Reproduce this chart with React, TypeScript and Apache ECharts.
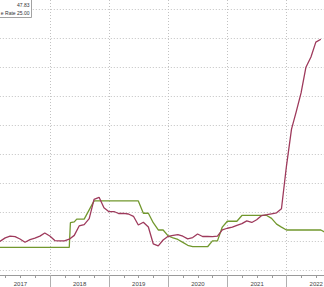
import React, { useEffect, useRef } from "react";
import * as echarts from "echarts";

// Inflation (red) – month-end values
const cpiDates = [
  "2017-01-31","2017-02-28","2017-03-31","2017-04-30","2017-05-31","2017-06-30","2017-07-31","2017-08-31","2017-09-30","2017-10-31","2017-11-30","2017-12-31",
  "2018-01-31","2018-02-28","2018-03-31","2018-04-30","2018-05-31","2018-06-30","2018-07-31","2018-08-31","2018-09-30","2018-10-31","2018-11-30","2018-12-31",
  "2019-01-31","2019-02-28","2019-03-31","2019-04-30","2019-05-31","2019-06-30","2019-07-31","2019-08-31","2019-09-30","2019-10-31","2019-11-30","2019-12-31",
  "2020-01-31","2020-02-29","2020-03-31","2020-04-30","2020-05-31","2020-06-30","2020-07-31","2020-08-31","2020-09-30","2020-10-31","2020-11-30","2020-12-31",
  "2021-01-31","2021-02-28","2021-03-31","2021-04-30","2021-05-31","2021-06-30","2021-07-31","2021-08-31","2021-09-30","2021-10-31","2021-11-30","2021-12-31",
  "2022-01-31","2022-02-28","2022-03-31","2022-04-30","2022-05-31","2022-06-30","2022-07-31",
];
const cpiValues = [
  9.22, 10.13, 11.29, 11.87, 11.72, 10.9, 9.79, 10.68, 11.2, 11.9, 12.98, 11.92,
  10.35, 10.26, 10.23, 10.85, 12.15, 15.39, 15.85, 17.9, 24.52, 25.24, 21.62, 20.3,
  20.35, 19.67, 19.71, 19.5, 18.71, 15.72, 16.65, 15.01, 9.26, 8.55, 10.56, 11.84,
  12.15, 12.37, 11.86, 10.94, 11.39, 12.62, 11.76, 11.77, 11.75, 11.89, 14.03, 14.6,
  14.97, 15.61, 16.19, 17.14, 16.59, 17.53, 18.95, 19.25, 19.58, 19.89, 21.31, 36.08,
  48.69, 54.44, 61.14, 69.97, 73.5, 78.62, 79.6,
];

// Policy rate (green)
const rateDates = [
  "2016-12-31","2018-04-30","2018-05-07","2018-05-31","2018-06-15","2018-07-31","2018-09-30",
  "2019-06-30","2019-07-31","2019-08-31","2019-09-30","2019-10-31","2019-11-30","2019-12-31",
  "2020-01-31","2020-02-29","2020-03-31","2020-04-30","2020-05-31","2020-08-31","2020-09-30","2020-10-31","2020-11-30","2020-12-31",
  "2021-02-28","2021-03-31","2021-08-31","2021-09-30","2021-10-31","2021-11-30","2021-12-31",
  "2022-07-31","2022-08-31",
];
const rateValues = [
  8, 8, 16.5, 16.8, 17.75, 17.75, 24,
  24, 19.75, 19.75, 16.5, 14, 14, 12,
  11.25, 10.75, 9.75, 8.75, 8.25, 8.25, 10.25, 10.25, 15, 17,
  17, 19, 19, 18, 16, 15, 14,
  14, 13,
];

const yearStart = 2017;
const yearEnd = 2023;
const yTicks = { min: 0, max: 90, interval: 10 };
const legendLines = ["47.83", "e Rate 25.00"];

function toYear(d: string): number {
  const [y, m, day] = d.split("-").map(Number);
  const start = Date.UTC(y, 0, 1);
  const next = Date.UTC(y + 1, 0, 1);
  const cur = Date.UTC(y, m - 1, day);
  return y + (cur - start) / (next - start);
}

const W = 324;
const H = 287;
const PX_PER_YEAR = 59.17;
const LEFT = -9.2;
const GRID_W = (yearEnd - yearStart) * PX_PER_YEAR;
const AXIS_Y = 275;
const dotted = { color: "#c2c2c2", width: 1, type: [1, 2] as any };

export default function App() {
  const ref = useRef<HTMLDivElement>(null);
  useEffect(() => {
    document.body.style.margin = "0";
    const chart = echarts.init(ref.current!, null, { renderer: "svg" });
    const font = "Liberation Sans, Arial, sans-serif";
    const gridBase = { outerBoundsMode: "none", containLabel: false };
    chart.setOption({
      animation: false,
      backgroundColor: "#ffffff",
      grid: [
        { ...gridBase, left: LEFT, width: GRID_W, top: 0, height: AXIS_Y },
        { ...gridBase, left: LEFT - PX_PER_YEAR / 2, width: GRID_W, top: 0, height: AXIS_Y },
        { ...gridBase, left: LEFT, width: GRID_W, top: 9, height: 270.7 - 9 },
      ],
      xAxis: [
        {
          gridIndex: 0, type: "value", min: yearStart, max: yearEnd, interval: 1,
          axisLine: { show: true, lineStyle: { color: "#9a9a9a", width: 1 } },
          axisTick: { show: true, length: 12, lineStyle: { color: "#b0b0b0" } },
          minorTick: { show: true, splitNumber: 4, length: 3, lineStyle: { color: "#9a9a9a" } },
          splitLine: { show: true, lineStyle: dotted },
          axisLabel: { show: false },
        },
        {
          gridIndex: 1, type: "value", min: yearStart - 0.5, max: yearEnd - 0.5, interval: 1,
          axisLine: { show: false }, axisTick: { show: false }, splitLine: { show: false },
          axisLabel: {
            show: true, fontSize: 6, color: "#444", fontFamily: font, margin: 6,
            showMinLabel: true, showMaxLabel: true,
            formatter: (v: number) => (v < yearStart ? "" : String(Math.floor(v))),
          },
        },
        {
          gridIndex: 2, type: "value", min: yearStart, max: yearEnd, show: false,
        },
      ],
      yAxis: [
        { gridIndex: 0, type: "value", min: 0, max: 1, show: false },
        { gridIndex: 1, type: "value", min: 0, max: 1, show: false },
        {
          gridIndex: 2, type: "value", min: yTicks.min, max: yTicks.max, interval: yTicks.interval,
          axisLine: { show: false }, axisTick: { show: false }, axisLabel: { show: false },
          splitLine: { show: true, lineStyle: dotted },
        },
      ],
      series: [
        {
          type: "line", xAxisIndex: 2, yAxisIndex: 2, symbol: "none", clip: true,
          data: rateDates.map((d, i) => [toYear(d), rateValues[i]]),
          lineStyle: { color: "#72982e", width: 1.3 },
          z: 3,
        },
        {
          type: "line", xAxisIndex: 2, yAxisIndex: 2, symbol: "none", clip: true,
          data: cpiDates.map((d, i) => [toYear(d), cpiValues[i]]),
          lineStyle: { color: "#9e3a5c", width: 1.3 },
          z: 4,
        },
      ],
      graphic: [
        {
          type: "rect", z: 100,
          shape: { x: -1, y: -1, width: 32.5, height: 18.5 },
          style: { fill: "#ffffff", stroke: "#8a8a8a", lineWidth: 0.8 },
        },
        {
          type: "text", z: 101, x: 29.5, y: 5,
          style: { text: legendLines[0], fontSize: 5, fill: "#333", align: "right", verticalAlign: "middle", fontFamily: font },
        },
        {
          type: "text", z: 101, x: 29.5, y: 12.5,
          style: { text: legendLines[1], fontSize: 5, fill: "#333", align: "right", verticalAlign: "middle", fontFamily: font },
        },
      ],
    });
    return () => chart.dispose();
  }, []);
  return <div ref={ref} style={{ position: "fixed", left: 0, top: 0, width: W, height: H }} />;
}
